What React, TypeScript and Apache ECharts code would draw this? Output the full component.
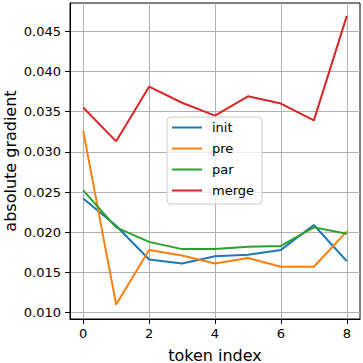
import React, { useEffect, useRef } from "react";
import * as echarts from "echarts";

const tokenIndex = [0, 1, 2, 3, 4, 5, 6, 7, 8];
const initValues = [0.0242, 0.0208, 0.0166, 0.0161, 0.017, 0.0172, 0.0178, 0.0209, 0.0164];
const preValues = [0.0326, 0.011, 0.0178, 0.0171, 0.0161, 0.0168, 0.0157, 0.0157, 0.0201];
const parValues = [0.0252, 0.0206, 0.0188, 0.0179, 0.0179, 0.0182, 0.0183, 0.0206, 0.0198];
const mergeValues = [0.0355, 0.0313, 0.0381, 0.0361, 0.0345, 0.0369, 0.036, 0.0339, 0.0469];
const xTicks = [0, 2, 4, 6, 8];
const yTicks = [0.01, 0.015, 0.02, 0.025, 0.03, 0.035, 0.04, 0.045];

const seriesNames = ["init", "pre", "par", "merge"];
const seriesValues = [initValues, preValues, parValues, mergeValues];
const colors = ["#1f77b4", "#ff7f0e", "#2ca02c", "#d62728"];

export default function App() {
  const ref = useRef<HTMLDivElement>(null);
  useEffect(() => {
    if (!ref.current) return;
    const chart = echarts.init(ref.current, null, { renderer: "svg" });
    const font = "DejaVu Sans";
    chart.setOption({
      animation: false,
      backgroundColor: "#fff",
      color: colors,
      textStyle: { fontFamily: font },
      grid: {
        left: 70,
        right: 3,
        top: 3,
        bottom: 44,
        show: true,
        outerBoundsMode: "none",
        containLabel: false,
        borderColor: "#000",
        borderWidth: 1,
        backgroundColor: "transparent",
      },
      legend: {
        orient: "vertical",
        left: 167,
        top: 117,
        data: seriesNames,
        icon: "rect",
        itemWidth: 30,
        itemHeight: 2,
        itemGap: 8,
        padding: [4, 8, 7, 5],
        borderColor: "#cccccc",
        borderWidth: 1,
        borderRadius: 4,
        backgroundColor: "rgba(255,255,255,0.8)",
        textStyle: { fontSize: 13, color: "#000", fontFamily: font, padding: [0, 0, 0, 5] },
      },
      xAxis: {
        type: "value",
        min: -0.4,
        max: 8.4,
        name: "token index",
        nameLocation: "middle",
        nameGap: 28,
        nameMoveOverlap: false,
        nameTextStyle: { fontSize: 16, color: "#000", fontFamily: font },
        axisLine: { show: true, onZero: false, lineStyle: { color: "#000", width: 1 } },
        axisTick: { show: true, inside: false, length: 5, lineStyle: { color: "#000" }, customValues: xTicks },
        axisLabel: { fontSize: 13, color: "#000", margin: 8, fontFamily: font, customValues: xTicks, formatter: (v: number) => String(v) },
        splitLine: { show: true, lineStyle: { color: "#b0b0b0", width: 1 } },
      },
      yAxis: {
        type: "value",
        min: 0.00921,
        max: 0.0485,
        name: "absolute gradient",
        nameLocation: "middle",
        nameGap: 52,
        nameMoveOverlap: false,
        nameTextStyle: { fontSize: 16, color: "#000", fontFamily: font },
        axisLine: { show: true, onZero: false, lineStyle: { color: "#000", width: 1 } },
        axisTick: { show: true, inside: false, length: 5, lineStyle: { color: "#000" }, customValues: yTicks },
        axisLabel: { fontSize: 13, color: "#000", margin: 9, fontFamily: font, customValues: yTicks, formatter: (v: number) => v.toFixed(3) },
        splitLine: { show: true, lineStyle: { color: "#b0b0b0", width: 1 } },
      },
      series: seriesNames.map((name, i) => ({
        name,
        type: "line",
        symbol: "none",
        lineStyle: { width: 2, color: colors[i] },
        itemStyle: { color: colors[i] },
        data: tokenIndex.map((x, j) => [x, seriesValues[i][j]]),
      })),
    });
    return () => chart.dispose();
  }, []);
  return <div ref={ref} style={{ position: "fixed", left: 0, top: 0, width: 363, height: 363 }} />;
}
